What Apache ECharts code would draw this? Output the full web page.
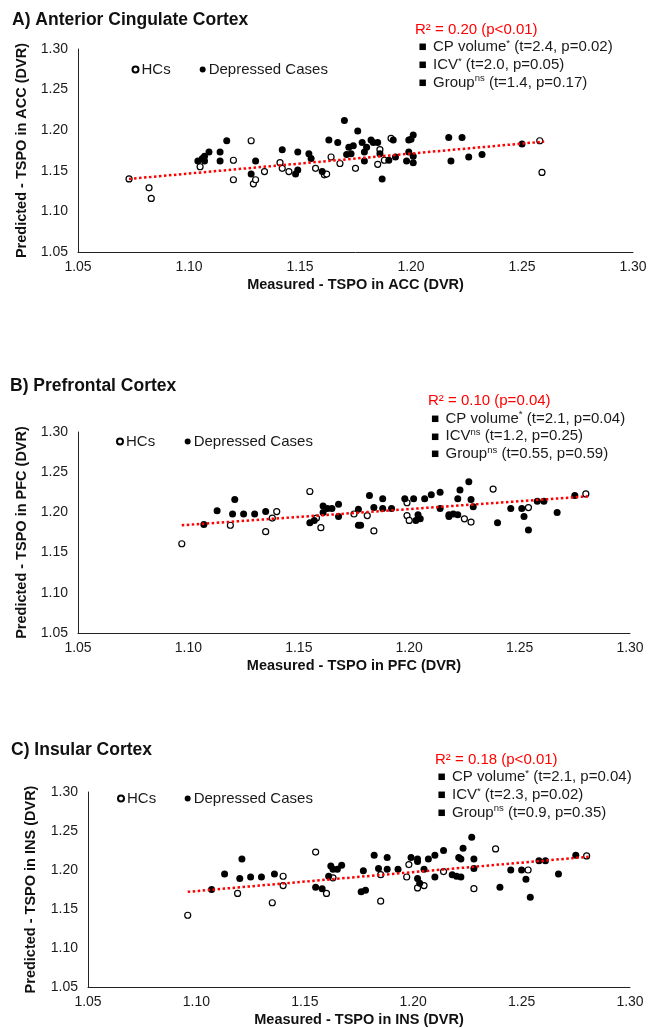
<!DOCTYPE html>
<html>
<head>
<meta charset="utf-8">
<script src="https://cdn.jsdelivr.net/npm/echarts@6/dist/echarts.min.js"></script>
<style>
html,body{margin:0;padding:0;background:#fff;}
#chart{width:659px;height:1028px;}
</style>
</head>
<body>
<div id="chart"></div>
<script>
// ---------- DATA ----------
const xTicks = [1.05, 1.10, 1.15, 1.20, 1.25, 1.30];
const yTicks = [1.05, 1.10, 1.15, 1.20, 1.25, 1.30];

// A) Anterior Cingulate Cortex  [measured, predicted]
const accHC = [[1.073,1.140],[1.082,1.129],[1.083,1.116],[1.105,1.155],[1.120,1.163],[1.128,1.187],[1.120,1.139],[1.129,1.134],[1.130,1.139],[1.134,1.149],[1.141,1.160],[1.142,1.153],[1.145,1.149],[1.157,1.153],[1.161,1.145],[1.162,1.146],[1.164,1.167],[1.168,1.159],[1.175,1.153],[1.185,1.158],[1.186,1.176],[1.188,1.163],[1.191,1.190],[1.258,1.187],[1.259,1.148]];
const accDep = [[1.104,1.162],[1.106,1.165],[1.107,1.168],[1.107,1.162],[1.109,1.173],[1.114,1.162],[1.114,1.173],[1.117,1.187],[1.130,1.162],[1.128,1.146],[1.142,1.176],[1.149,1.173],[1.149,1.151],[1.148,1.146],[1.154,1.171],[1.155,1.165],[1.160,1.149],[1.163,1.188],[1.167,1.185],[1.170,1.212],[1.176,1.199],[1.172,1.179],[1.174,1.181],[1.171,1.170],[1.173,1.171],[1.178,1.185],[1.180,1.179],[1.179,1.173],[1.179,1.162],[1.182,1.188],[1.185,1.185],[1.186,1.171],[1.183,1.185],[1.190,1.163],[1.193,1.167],[1.192,1.188],[1.187,1.140],[1.199,1.188],[1.200,1.189],[1.201,1.194],[1.199,1.173],[1.198,1.162],[1.201,1.160],[1.201,1.168],[1.217,1.191],[1.223,1.191],[1.218,1.162],[1.226,1.167],[1.232,1.170],[1.250,1.183]];
const accTrend = [[1.073,1.140],[1.260,1.186]];

// B) Prefrontal Cortex
const pfcHC = [[1.097,1.161],[1.119,1.184],[1.135,1.176],[1.138,1.193],[1.140,1.201],[1.155,1.226],[1.158,1.193],[1.160,1.181],[1.175,1.198],[1.181,1.196],[1.184,1.177],[1.199,1.212],[1.199,1.196],[1.200,1.190],[1.225,1.192],[1.228,1.188],[1.238,1.229],[1.254,1.206],[1.280,1.223]];
const pfcDep = [[1.107,1.185],[1.113,1.202],[1.121,1.216],[1.120,1.198],[1.125,1.198],[1.130,1.198],[1.135,1.201],[1.155,1.187],[1.157,1.190],[1.161,1.208],[1.161,1.200],[1.163,1.205],[1.165,1.205],[1.168,1.210],[1.168,1.195],[1.177,1.204],[1.177,1.184],[1.178,1.184],[1.182,1.221],[1.184,1.206],[1.188,1.217],[1.188,1.205],[1.192,1.205],[1.198,1.217],[1.202,1.217],[1.204,1.197],[1.203,1.190],[1.205,1.192],[1.207,1.217],[1.210,1.222],[1.214,1.225],[1.214,1.205],[1.218,1.197],[1.220,1.198],[1.222,1.197],[1.222,1.217],[1.223,1.228],[1.227,1.238],[1.228,1.216],[1.229,1.207],[1.218,1.195],[1.240,1.187],[1.246,1.205],[1.251,1.205],[1.252,1.195],[1.254,1.178],[1.258,1.214],[1.261,1.214],[1.267,1.200],[1.275,1.221]];
const pfcTrend = [[1.097,1.184],[1.281,1.220]];

// C) Insular Cortex
const insHC = [[1.096,1.142],[1.119,1.170],[1.135,1.158],[1.140,1.192],[1.140,1.180],[1.155,1.223],[1.160,1.170],[1.163,1.190],[1.185,1.194],[1.185,1.160],[1.197,1.191],[1.198,1.207],[1.202,1.177],[1.205,1.180],[1.214,1.198],[1.228,1.176],[1.238,1.227],[1.253,1.200],[1.280,1.218]];
const insDep = [[1.107,1.175],[1.113,1.195],[1.121,1.214],[1.120,1.189],[1.125,1.191],[1.130,1.191],[1.136,1.195],[1.155,1.178],[1.158,1.176],[1.162,1.205],[1.163,1.201],[1.165,1.201],[1.167,1.206],[1.161,1.192],[1.176,1.172],[1.178,1.174],[1.177,1.199],[1.182,1.219],[1.184,1.202],[1.188,1.216],[1.199,1.216],[1.202,1.214],[1.202,1.211],[1.207,1.214],[1.210,1.219],[1.214,1.225],[1.223,1.228],[1.227,1.242],[1.221,1.216],[1.222,1.214],[1.228,1.214],[1.188,1.201],[1.193,1.201],[1.205,1.201],[1.202,1.189],[1.203,1.183],[1.210,1.191],[1.218,1.194],[1.220,1.192],[1.222,1.191],[1.228,1.202],[1.240,1.178],[1.245,1.200],[1.250,1.200],[1.252,1.188],[1.254,1.165],[1.258,1.212],[1.261,1.212],[1.267,1.195],[1.275,1.219]];
const insTrend = [[1.096,1.172],[1.281,1.217]];

const panelTitles = ['A) Anterior Cingulate Cortex', 'B) Prefrontal Cortex', 'C) Insular Cortex'];
const xNames = ['Measured - TSPO in ACC (DVR)', 'Measured - TSPO in PFC (DVR)', 'Measured - TSPO in INS (DVR)'];
const yNames = ['Predicted - TSPO in ACC (DVR)', 'Predicted - TSPO in PFC (DVR)', 'Predicted - TSPO in INS (DVR)'];
const r2Texts = ['R² = 0.20 (p<0.01)', 'R² = 0.10 (p=0.04)', 'R² = 0.18 (p<0.01)'];
// [label, superscript, stats]
const statsA = [['CP volume', '*', ' (t=2.4, p=0.02)'], ['ICV', '*', ' (t=2.0, p=0.05)'], ['Group', 'ns', ' (t=1.4, p=0.17)']];
const statsB = [['CP volume', '*', ' (t=2.1, p=0.04)'], ['ICV', 'ns', ' (t=1.2, p=0.25)'], ['Group', 'ns', ' (t=0.55, p=0.59)']];
const statsC = [['CP volume', '*', ' (t=2.1, p=0.04)'], ['ICV', '*', ' (t=2.3, p=0.02)'], ['Group', 'ns', ' (t=0.9, p=0.35)']];

// ---------- LAYOUT ----------
const FONT = '"Liberation Sans", Arial, Helvetica, sans-serif';
const grids = [
  {left: 78, top: 49, width: 555, height: 203},
  {left: 78, top: 432, width: 552, height: 201},
  {left: 88, top: 792, width: 542, height: 195}
];
const yNameGap = [53, 55, 57];
const titlePos = [{x: 12, y: 21}, {x: 10, y: 387}, {x: 11, y: 751}];
const statPos = [{x: 415, y: 20.5, bx: 418.5}, {x: 428, y: 392, bx: 431}, {x: 435, y: 750.5, bx: 437.5}];
const legendPos = [{left: 131.5, top: 62}, {left: 116, top: 434}, {left: 117, top: 791}];
const legendGap = [29, 29.5, 28.5];

const hcData = [accHC, pfcHC, insHC];
const depData = [accDep, pfcDep, insDep];
const trendData = [accTrend, pfcTrend, insTrend];
const statsAll = [statsA, statsB, statsC];

const chart = echarts.init(document.getElementById('chart'), null, {renderer: 'canvas'});

const xAxes = [], yAxes = [], series = [], legends = [], graphics = [];
for (let i = 0; i < 3; i++) {
  xAxes.push({
    type: 'value', gridIndex: i, min: xTicks[0], max: xTicks[xTicks.length - 1], interval: 0.05,
    axisLine: {show: true, onZero: false, lineStyle: {color: '#222', width: 1}},
    axisTick: {show: false}, splitLine: {show: false},
    axisLabel: {formatter: v => v.toFixed(2), color: '#1a1a1a', fontSize: 14, fontFamily: FONT, margin: 8},
    name: xNames[i], nameLocation: 'middle', nameGap: 33,
    nameTextStyle: {fontWeight: 'bold', fontSize: 14.5, color: '#111', fontFamily: FONT, verticalAlign: 'middle'}
  });
  yAxes.push({
    type: 'value', gridIndex: i, min: yTicks[0], max: yTicks[yTicks.length - 1], interval: 0.05,
    axisLine: {show: true, onZero: false, lineStyle: {color: '#222', width: 1}},
    axisTick: {show: false}, splitLine: {show: false},
    axisLabel: {formatter: v => v.toFixed(2), color: '#1a1a1a', fontSize: 14, fontFamily: FONT, margin: 10},
    name: yNames[i], nameLocation: 'middle', nameGap: yNameGap[i], nameRotate: 90,
    nameTextStyle: {fontWeight: 'bold', fontSize: 14.5, color: '#111', fontFamily: FONT, verticalAlign: 'middle'}
  });
  series.push({
    name: 'HCs', type: 'scatter', xAxisIndex: i, yAxisIndex: i, data: hcData[i],
    symbol: 'circle', symbolSize: 6,
    itemStyle: {color: '#fff', borderColor: '#000', borderWidth: 1.2, opacity: 1},
    emphasis: {disabled: true}, z: 3
  });
  series.push({
    name: 'Depressed Cases', type: 'scatter', xAxisIndex: i, yAxisIndex: i, data: depData[i],
    symbol: 'circle', symbolSize: 7,
    itemStyle: {color: '#000', borderColor: '#000', borderWidth: 0, opacity: 1},
    emphasis: {disabled: true}, z: 4
  });
  series.push({
    name: 'trend' + i, type: 'line', xAxisIndex: i, yAxisIndex: i, data: trendData[i],
    symbol: 'none', silent: true,
    lineStyle: {color: '#ff0000', width: 2.5, type: [2.5, 2.5]},
    z: 5
  });
  legends.push({
    data: ['HCs', 'Depressed Cases'], left: legendPos[i].left, top: legendPos[i].top,
    padding: 0, itemWidth: 6, itemHeight: 6, itemGap: legendGap[i], icon: 'circle',
    selectedMode: false,
    textStyle: {fontSize: 15, color: '#1a1a1a', fontFamily: FONT, padding: [0, 0, 0, -2]}
  });
  graphics.push({
    type: 'text', left: titlePos[i].x, top: titlePos[i].y - 10,
    style: {text: panelTitles[i], font: 'bold 17.5px ' + FONT, fill: '#111'}
  });
  graphics.push({
    type: 'text', x: statPos[i].x, y: statPos[i].y,
    style: {text: r2Texts[i], fontSize: 15, fontFamily: FONT, fill: '#ff0000', lineHeight: 18}
  });
  const lines = statsAll[i].map(s => '{b|■}{t|' + s[0] + '}{s|' + s[1] + '}{t|' + s[2] + '}').join('\n');
  graphics.push({
    type: 'text', x: statPos[i].bx, y: statPos[i].y + 17.6,
    style: {
      text: lines, fontSize: 15, fontFamily: FONT, fill: '#1a1a1a', lineHeight: 17.8,
      rich: {
        b: {fontSize: 8.5, width: 14.5, fill: '#000', lineHeight: 17.8, fontFamily: 'DejaVu Sans'},
        t: {fontSize: 15, fontFamily: FONT, fill: '#1a1a1a', lineHeight: 17.8},
        s: {fontSize: 9.5, fontFamily: FONT, fill: '#1a1a1a', lineHeight: 11, verticalAlign: 'top'}
      }
    }
  });
}

chart.setOption({
  backgroundColor: '#fff',
  animation: false,
  grid: grids.map(g => Object.assign({outerBoundsMode: 'none', containLabel: false}, g)),
  xAxis: xAxes,
  yAxis: yAxes,
  legend: legends,
  series: series,
  graphic: graphics
});
</script>
</body>
</html>
